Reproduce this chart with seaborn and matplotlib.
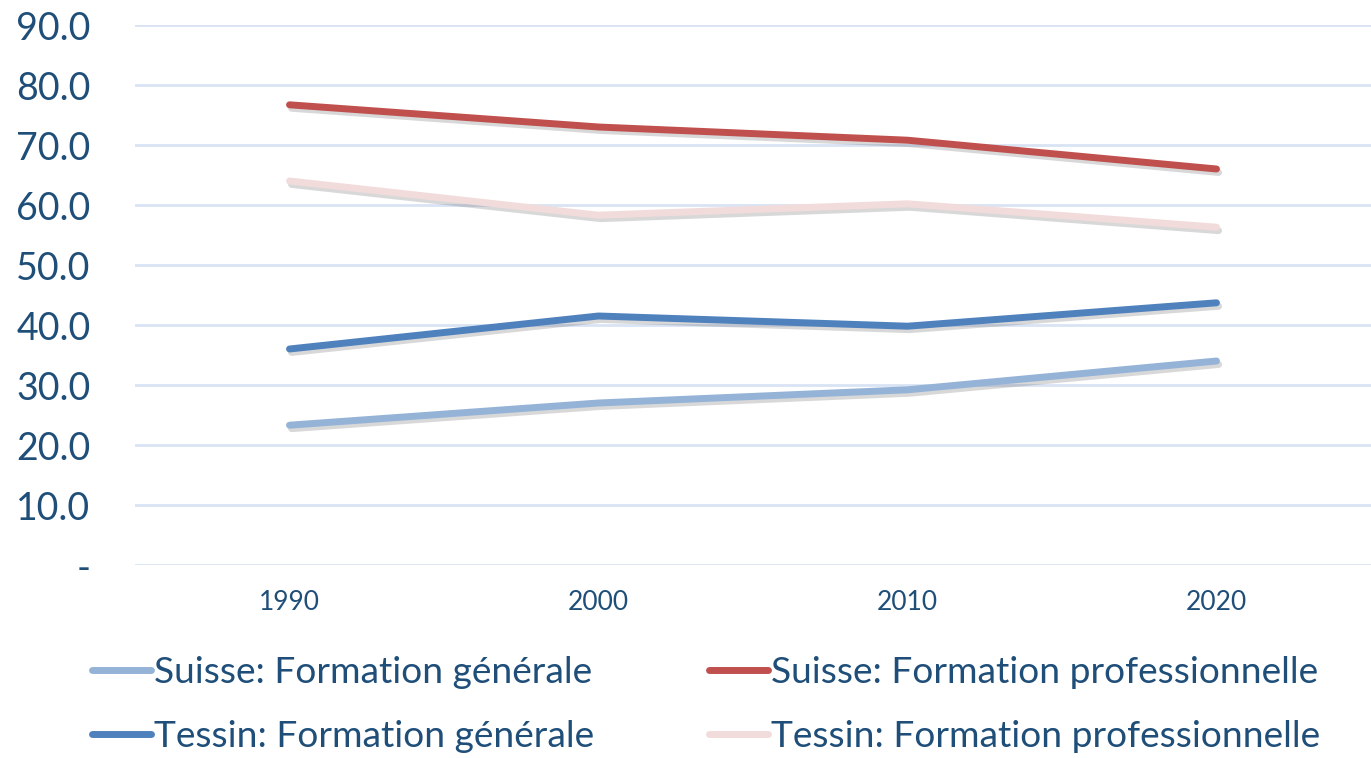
import numpy as np
import pandas as pd
import matplotlib
matplotlib.use("Agg")
import matplotlib.pyplot as plt
import matplotlib.patheffects as pe
import seaborn as sns

years = [1990, 2000, 2010, 2020]
suisse_gen = [23.3, 27.0, 29.2, 34.0]
suisse_pro = [76.7, 73.0, 70.8, 66.0]
tessin_gen = [36.0, 41.5, 39.8, 43.7]
tessin_pro = [64.0, 58.3, 60.2, 56.3]

series_names = ["Suisse: Formation générale", "Suisse: Formation professionnelle",
                "Tessin: Formation générale", "Tessin: Formation professionnelle"]
colors = ["#95B3D7", "#C0504D", "#4F81BD", "#F2DCDB"]
text_color = "#1F4E79"

df = pd.DataFrame({
    "year": years * 4,
    "value": suisse_gen + suisse_pro + tessin_gen + tessin_pro,
    "serie": np.repeat(series_names, len(years)),
})

sns.set_style("white")
plt.rcParams['font.family'] = ['Lato', 'DejaVu Sans']

fig = plt.figure(figsize=(13.71, 7.58), dpi=100)
ax = fig.add_axes([135 / 1371, 1 - 565 / 758, 1 - 135 / 1371, 540 / 758])

sns.lineplot(data=df, x="year", y="value", hue="serie", hue_order=series_names,
             palette=colors, linewidth=5, ax=ax, legend=True)

# soft drop shadow under each line
shadow = [pe.SimpleLineShadow(offset=(1.5, -2.5), shadow_color="#666666", alpha=0.25),
          pe.Normal()]
for line in ax.lines:
    line.set_solid_capstyle("round")
    line.set_path_effects(shadow)

ax.set_xlim(1985, 2025)
ax.set_ylim(0, 90)
ax.set_xticks(years)
ax.set_xticklabels([str(y) for y in years])
yticks = np.arange(0, 91, 10)
ax.set_yticks(yticks)
ax.set_yticklabels(["-" if v == 0 else f"{v:.1f}" for v in yticks])
ax.yaxis.grid(True, color="#D9E3F3", linewidth=2)
ax.xaxis.grid(False)
ax.set_axisbelow(True)
for s in ax.spines.values():
    s.set_visible(False)
ax.tick_params(axis="y", length=0, pad=32, labelsize=27, labelcolor=text_color)
ax.tick_params(axis="x", length=0, pad=18, labelsize=19, labelcolor=text_color)
ax.set_xlabel("")
ax.set_ylabel("")

handles, labels = ax.get_legend_handles_labels()
order = [0, 2, 1, 3]
leg = ax.legend([handles[i] for i in order], [labels[i] for i in order],
                ncol=2, loc="upper left", bbox_to_anchor=(-0.035, -0.168),
                borderaxespad=0, borderpad=0,
                frameon=False, fontsize=26.7, handlelength=1.6, handletextpad=0.08,
                columnspacing=3.1, labelspacing=0.84, labelcolor=text_color)
for h in leg.get_lines():
    h.set_linewidth(5)
    h.set_solid_capstyle("round")
    h.set_path_effects([pe.Normal()])

fig.savefig("out.png", dpi=100)
